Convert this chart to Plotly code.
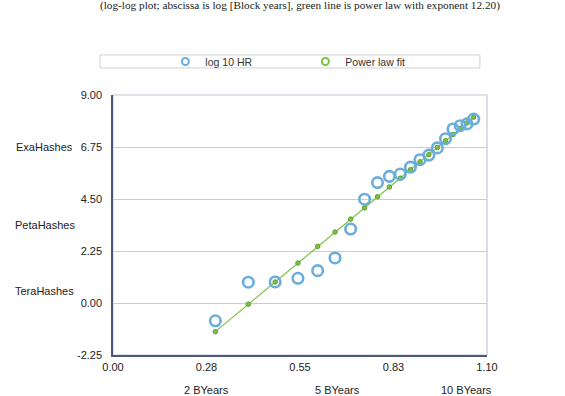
import plotly.graph_objects as go

# log10 of block years (abscissa)
log_years = [0.301, 0.398, 0.477, 0.544, 0.602, 0.653, 0.699, 0.740, 0.778, 0.813,
             0.845, 0.875, 0.903, 0.929, 0.954, 0.978, 1.000, 1.021, 1.041, 1.061]
# log10 hash rate
log10_hr = [-0.77, 0.90, 0.91, 1.07, 1.40, 1.95, 3.20, 4.49, 5.21, 5.48,
            5.58, 5.88, 6.20, 6.40, 6.71, 7.11, 7.53, 7.67, 7.75, 7.96]
# power law fit values
power_fit = [-1.24, -0.05, 0.91, 1.73, 2.45, 3.07, 3.63, 4.12, 4.60, 5.02,
             5.40, 5.77, 6.11, 6.42, 6.73, 7.02, 7.29, 7.55, 7.79, 8.04]

x_ticks = [0.0, 0.275, 0.55, 0.825, 1.1]
x_tick_text = ["0.00", "0.28", "0.55", "0.83", "1.10"]
y_ticks = [-2.25, 0.0, 2.25, 4.5, 6.75, 9.0]
y_tick_text = ["-2.25", "0.00", "2.25", "4.50", "6.75", "9.00"]

title_text = "(log-log plot; abscissa is log [Block years], green line is power law with exponent 12.20)"
side_labels = ["ExaHashes", "PetaHashes", "TeraHashes"]
bottom_labels = ["2 BYears", "5 BYears", "10 BYears"]

BLUE = "#6aaddb"
GREEN = "#7cc146"
FONT = "Liberation Sans, Arial, sans-serif"

fig = go.Figure()
fig.add_trace(go.Scatter(
    x=log_years, y=power_fit, mode="lines+markers", showlegend=False,
    line=dict(color=GREEN, width=1.2),
    marker=dict(size=4.5, color=GREEN, line=dict(color="#5d9e30", width=1)),
))
fig.add_trace(go.Scatter(
    x=log_years, y=log10_hr, mode="markers", showlegend=False,
    marker=dict(symbol="circle-open", size=10.5, color=BLUE, line=dict(color=BLUE, width=2.6)),
))
# legend-only entries
fig.add_trace(go.Scatter(
    x=[None], y=[None], mode="markers", name="log 10 HR",
    marker=dict(symbol="circle-open", size=7, color=BLUE, line=dict(color=BLUE, width=2)),
))
fig.add_trace(go.Scatter(
    x=[None], y=[None], mode="markers", name="Power law fit",
    marker=dict(symbol="circle-open", size=7, color=GREEN, line=dict(color=GREEN, width=2)),
))

annotations = [
    dict(text=title_text, x=0.5, xref="paper", y=1.346, yref="paper", showarrow=False,
         font=dict(family="Liberation Serif, Times New Roman, serif", size=11.25, color="#222"),
         xanchor="center", yanchor="middle"),
]
for lbl, yy in zip(side_labels, [0.80, 0.50, 0.246]):
    annotations.append(dict(text=lbl, x=-0.182, xref="paper", y=yy, yref="paper", showarrow=False,
                            font=dict(family=FONT, size=11, color="#222"),
                            xanchor="center", yanchor="middle"))
for lbl, xx in zip(bottom_labels, [0.2513, 0.6016, 0.9465]):
    annotations.append(dict(text=lbl, x=xx, xref="paper", y=-0.135, yref="paper", showarrow=False,
                            font=dict(family=FONT, size=11, color="#222"),
                            xanchor="center", yanchor="middle"))

shapes = [
    # plot border (light)
    dict(type="rect", xref="paper", yref="paper", x0=0, x1=1, y0=0, y1=1,
         line=dict(color="#c3c9d6", width=1.2), layer="below"),
    # legend box
    dict(type="rect", xref="paper", yref="paper", x0=-0.0348, x1=0.981, y0=1.104, y1=1.154,
         line=dict(color="#d0d0d0", width=1), fillcolor="white"),
]

fig.update_layout(
    width=565, height=396,
    margin=dict(l=113, r=78, t=95, b=41),
    paper_bgcolor="white", plot_bgcolor="white",
    font=dict(family=FONT, size=11, color="#222"),
    annotations=annotations, shapes=shapes,
    legend=dict(orientation="h", x=0.14, xanchor="left", y=1.129, yanchor="middle",
                bgcolor="rgba(0,0,0,0)", font=dict(family=FONT, size=10.5, color="#333"),
                entrywidth=95, itemwidth=30),
    xaxis=dict(range=[0, 1.1], tickvals=x_ticks, ticktext=x_tick_text, showgrid=False,
               zeroline=False, showline=True, linecolor="#4d5878", linewidth=1.5,
               ticks="outside", ticklen=1, tickcolor="rgba(0,0,0,0)"),
    yaxis=dict(range=[-2.25, 9], tickvals=y_ticks, ticktext=y_tick_text, showgrid=True,
               gridcolor="#cccccc", gridwidth=1, zeroline=False, showline=True,
               linecolor="#4d5878", linewidth=1.5,
               ticks="outside", ticklen=7, tickcolor="rgba(0,0,0,0)"),
)

fig.write_html("out.html", config={"displayModeBar": False},
               post_script="document.body.style.margin='0px';document.body.style.overflow='hidden';")
